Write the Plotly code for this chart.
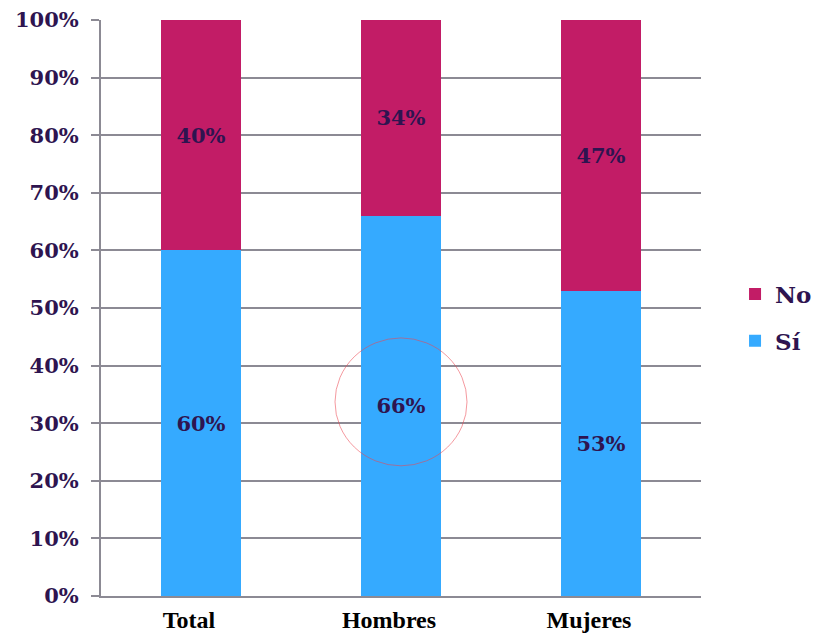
import plotly.graph_objects as go

# Survey answers by group (percent of respondents)
categories = ["Total", "Hombres", "Mujeres"]
si_values = [60, 66, 53]
no_values = [40, 34, 47]
y_ticks = [0, 10, 20, 30, 40, 50, 60, 70, 80, 90, 100]
y_tick_labels = ["0%", "10%", "20%", "30%", "40%", "50%", "60%", "70%", "80%", "90%", "100%"]

SI_COLOR = "#35AAFF"
NO_COLOR = "#C21C66"
LABEL_COLOR = "#2E1450"
GRID_COLOR = "#8C8A94"
SERIF = "DejaVu Serif"

fig = go.Figure()
fig.add_trace(go.Bar(
    x=categories, y=si_values, name="Sí", marker_color=SI_COLOR,
    marker_line_width=0, text=[f"{v}%" for v in si_values], texttemplate="%{text}",
    textposition="inside", insidetextanchor="middle",
    insidetextfont=dict(family=SERIF, size=21, color=LABEL_COLOR, weight="bold"),
    legendgroup="si", legendrank=2, hoverinfo="skip",
))
fig.add_trace(go.Bar(
    x=categories, y=no_values, name="No", marker_color=NO_COLOR,
    marker_line_width=0, text=[f"{v}%" for v in no_values], texttemplate="%{text}",
    textposition="inside", insidetextanchor="middle",
    insidetextfont=dict(family=SERIF, size=21, color=LABEL_COLOR, weight="bold"),
    legendgroup="no", legendrank=1, hoverinfo="skip",
))

# thin highlight ring around the men's "Sí" value
fig.add_shape(
    type="circle", xref="x", yref="y", x0=0.67, x1=1.33, y0=22.6, y1=44.8,
    line=dict(color="rgba(235,70,80,0.55)", width=1), layer="above",
)

fig.update_layout(
    width=814, height=635,
    margin=dict(l=101, r=113, t=20, b=39, autoexpand=False),
    barmode="stack", bargap=0.6,
    plot_bgcolor="white", paper_bgcolor="white",
    uniformtext=dict(minsize=21, mode="show"),
    legend=dict(
        xref="container", yref="container",
        x=0.903, y=0.5, xanchor="left", yanchor="middle",
        font=dict(family=SERIF, size=23, color=LABEL_COLOR, weight="bold"),
        traceorder="grouped", itemwidth=30,
        tracegroupgap=14, bgcolor="rgba(0,0,0,0)",
    ),
    showlegend=True,
)
fig.update_yaxes(
    range=[0, 100], tickvals=y_ticks, ticktext=y_tick_labels,
    showgrid=True, gridcolor=GRID_COLOR, gridwidth=2,
    showline=True, linecolor=GRID_COLOR, linewidth=2,
    ticks="outside", ticklen=8, tickwidth=2, tickcolor=GRID_COLOR,
    tickfont=dict(family=SERIF, size=21, color=LABEL_COLOR, weight="bold"),
    ticklabelstandoff=8, zeroline=False, automargin=False,
)
fig.update_xaxes(
    showline=True, linecolor=GRID_COLOR, linewidth=2, ticks="",
    tickfont=dict(family="Liberation Serif", size=24, color="black", weight="bold"),
    ticklabelstandoff=1, ticklabelshift=-12, automargin=False,
)

fig.write_html("out.html")
